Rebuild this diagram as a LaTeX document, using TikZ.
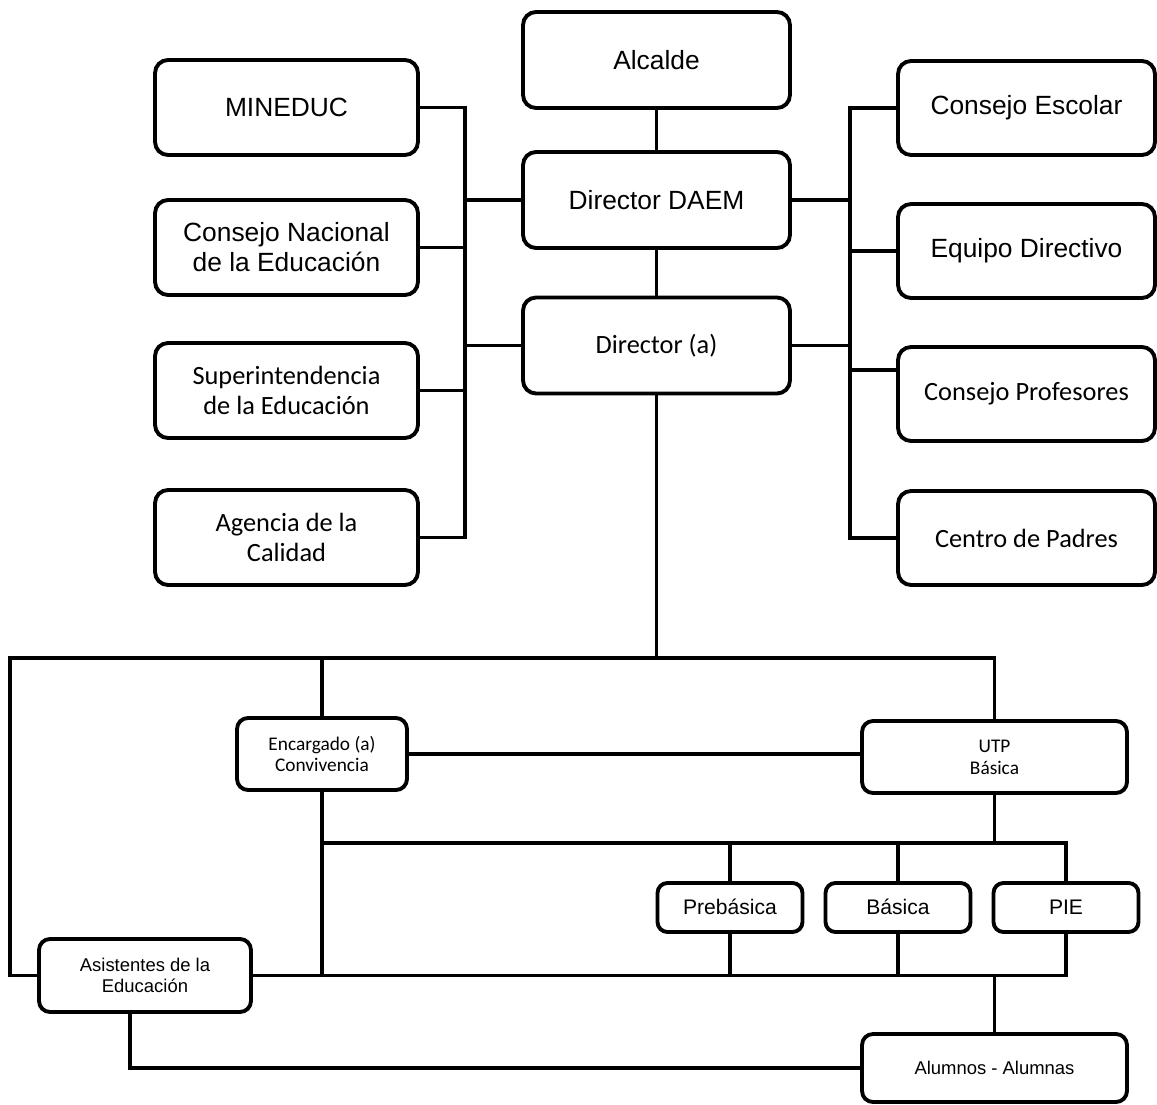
\documentclass[tikz,border=0pt]{standalone}
\usepackage{fontspec}
\setmainfont{Liberation Sans}
\newfontfamily\calibri{Carlito}
\usetikzlibrary{calc}
\tikzset{
	orgbox/.style={draw, line width=2.2pt, rounded corners=0.26cm, align=center, inner sep=1pt},
	link/.style={line width=2.2pt},
	arialbig/.style={font=\fontsize{15}{17}\selectfont},
	calibig/.style={font=\calibri\fontsize{15}{17}\selectfont},
	midbox/.style={minimum width=5.34cm, minimum height=1.92cm},
	leftbox/.style={minimum width=5.26cm, minimum height=1.9cm},
	rightbox/.style={minimum width=5.14cm, minimum height=1.88cm},
	unitbox/.style={orgbox, rounded corners=0.2cm, minimum width=2.9cm, minimum height=0.98cm, text height=1.7ex, text depth=0.3ex, font=\fontsize{12}{14}\selectfont}
}
\begin{document}
\begin{tikzpicture}[x=0.02cm, y=-0.02cm]
			%%%%% START %%%%%
			\useasboundingbox (0, 0) rectangle (1157, 1105);
			
			\node[orgbox, midbox, arialbig] (alcalde) at (656.5, 60) {Alcalde};
			\node[orgbox, midbox, arialbig] (daem) at (656.5, 200) {Director DAEM};
			\node[orgbox, midbox, calibig] (dira) at (656.5, 345.5) {Director (a)};
			
			\node[orgbox, leftbox, arialbig] (mineduc) at (286.5, 107.5) {MINEDUC};
			\node[orgbox, leftbox, arialbig] (cned) at (286.5, 247.5) {Consejo Nacional\\de la Educación};
			\node[orgbox, leftbox, calibig] (supered) at (286.5, 390.5) {Superintendencia\\de la Educación};
			\node[orgbox, leftbox, calibig] (agencia) at (286.5, 537.5) {Agencia de la\\Calidad};
			
			\node[orgbox, rightbox, arialbig] (escolar) at (1026.5, 108) {Consejo Escolar};
			\node[orgbox, rightbox, arialbig] (equipo) at (1026.5, 251) {Equipo Directivo};
			\node[orgbox, rightbox, calibig] (profes) at (1026.5, 394) {Consejo Profesores};
			\node[orgbox, rightbox, calibig] (padres) at (1026.5, 538) {Centro de Padres};
			
			\node[orgbox, rounded corners=0.22cm, minimum width=3.4cm, minimum height=1.44cm, font=\calibri\fontsize{11}{12.5}\selectfont] (encarg) at (322, 754) {Encargado (a)\\Convivencia};
			\node[orgbox, rounded corners=0.22cm, minimum width=5.3cm, minimum height=1.44cm, font=\calibri\fontsize{11}{12.5}\selectfont] (utp) at (994.5, 757) {UTP\\Básica};
			
			\node[unitbox] (preb) at (730, 907.5) {Prebásica};
			\node[unitbox] (basica) at (898, 907.5) {Básica};
			\node[unitbox] (pie) at (1066, 907.5) {PIE};
			
			\node[orgbox, rounded corners=0.22cm, minimum width=4.24cm, minimum height=1.46cm, font=\fontsize{10.5}{12}\selectfont] (asist) at (145, 975.5) {Asistentes de la\\Educación};
			\node[orgbox, rounded corners=0.22cm, minimum width=5.3cm, minimum height=1.36cm, font=\fontsize{10.5}{12}\selectfont] (alumnos) at (994.5, 1068) {Alumnos - Alumnas};
			
			\coordinate (lbus) at (465, 0);
			\coordinate (rbus) at (850, 0);
			\coordinate (hub) at (656.5, 658);
			\coordinate (lft) at (10, 658);
			\coordinate (mid) at (322, 843);
			
			\draw[link] (alcalde) -- (daem);
			\draw[link] (daem) -- (dira);
			
			\draw[link] (mineduc.east) -- (mineduc.east -| lbus) -- (agencia.east -| lbus) -- (agencia.east);
			\draw[link] (cned.east) -- (cned.east -| lbus);
			\draw[link] (supered.east) -- (supered.east -| lbus);
			\draw[link] (daem.west) -- (daem.west -| lbus);
			\draw[link] (dira.west) -- (dira.west -| lbus);
			
			\draw[link] (escolar.west) -- (escolar.west -| rbus) -- (padres.west -| rbus) -- (padres.west);
			\draw[link] (equipo.west) -- (equipo.west -| rbus);
			\draw[link] ($(profes.west)+(0,-24)$) -- ($(profes.west -| rbus)+(0,-24)$);
			\draw[link] (daem.east) -- (daem.east -| rbus);
			\draw[link] (dira.east) -- (dira.east -| rbus);
			
			\draw[link] (dira.south) -- (hub);
			\draw[link] (asist.west) -| (lft) -- (utp.north |- lft) -- (utp.north);
			\draw[link] (encarg.north) -- (encarg.north |- hub);
			\draw[link] (encarg.east) -- (encarg.east -| utp.west);
			
			\draw[link] (encarg.south) -- (mid) -- (pie.north |- mid) -- (pie.north);
			\draw[link] (utp.south) -- (utp.south |- mid);
			\draw[link] (preb.north) -- (preb.north |- mid);
			\draw[link] (basica.north) -- (basica.north |- mid);
			
			\draw[link] (asist.east) -- (pie.south |- asist.east) -- (pie.south);
			\draw[link] (mid) -- (mid |- asist.east);
			\draw[link] (preb.south) -- (preb.south |- asist.east);
			\draw[link] (basica.south) -- (basica.south |- asist.east);
			\draw[link] (alumnos.north) -- (alumnos.north |- asist.east);
			\draw[link] ([xshift=-0.3cm]asist.south) |- (alumnos.west);
			
			%%%%% END %%%%%
\end{tikzpicture}
\end{document}
